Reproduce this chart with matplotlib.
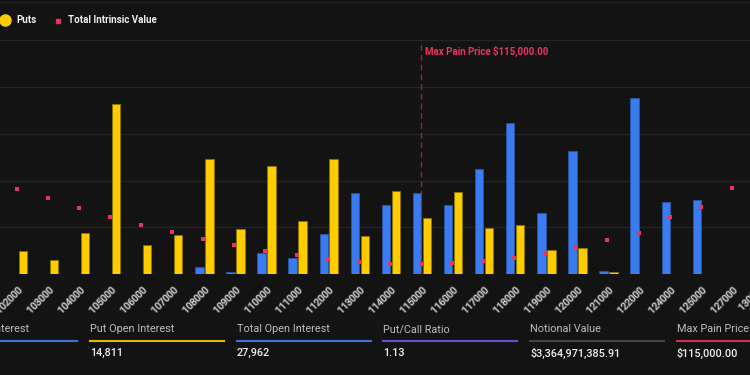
import matplotlib
matplotlib.use("Agg")
import matplotlib.pyplot as plt
from matplotlib.lines import Line2D
import matplotlib.patheffects as pe

# ---- data ----
strikes = ["102000", "103000", "104000", "105000", "106000", "107000", "108000",
           "109000", "110000", "111000", "112000", "113000", "114000", "115000",
           "116000", "117000", "118000", "119000", "120000", "121000", "122000",
           "124000", "125000", "127000"]
calls = [0, 0, 0, 0, 0, 0, 80, 27, 224, 171, 427, 865, 737, 865, 737, 1122,
         1613, 658, 1314, 32, 1876, 769, 790, 0]
puts = [246, 150, 438, 1816, 310, 417, 1229, 486, 1160, 566, 1229, 412, 887,
        598, 876, 498, 523, 256, 284, 27, 0, 0, 0, 0]
intrinsic = [91.3, 81.1, 71.1, 61.5, 52.9, 45.5, 37.7, 31.3, 25.2, 20.3, 16.0,
             13.1, 11.3, 11.0, 12.1, 13.9, 17.4, 22.7, 29.4, 36.3, 43.7, 61.5,
             71.8, 92.4]
next_strike = "130000"
max_pain_strike = "115000"
legend_labels = ["Puts", "Total Intrinsic Value"]
stat_titles = ["Call Open Interest", "Put Open Interest", "Total Open Interest",
               "Put/Call Ratio", "Notional Value", "Max Pain Price"]
stat_values = ["13,151", "14,811", "27,962", "1.13", "$3,364,971,385.91", "$115,000.00"]
stat_colors = ["#3b73d9", "#e6b800", "#3b73d9", "#6a4fd6", "#444444", "#d0304f"]

BG = "#131313"
BLUE = "#3b7bf0"
YELLOW = "#ffcc00"
RED = "#e8355f"

plt.rcParams["font.family"] = ["Roboto", "DejaVu Sans"]

W, H = 750, 375
fig = plt.figure(figsize=(7.5, 3.75), dpi=100, facecolor=BG)

def fx(px):
    return px / W

def fy(py):
    return 1 - py / H

ax = fig.add_axes([0, fy(274.3), 1, fy(40.0) - fy(274.3)])
ax.set_facecolor(BG)
x = list(range(len(strikes)))
bw = 0.27
ax.bar([i - 0.125 for i in x], calls, width=bw, color=BLUE,
       edgecolor="#2a55a8", linewidth=0.6, zorder=3)
ax.bar([i + 0.196 for i in x], puts, width=bw, color=YELLOW,
       edgecolor="#8a7300", linewidth=0.6, zorder=3)
ax.set_xlim(-0.537, 23.586)
ax.set_ylim(0, 2500)
ax.set_yticks([0, 500, 1000, 1500, 2000, 2500])
ax.yaxis.grid(True, color="#242424", linewidth=0.9, zorder=0)
ax.tick_params(axis="y", length=0, labelleft=False)
for s in ax.spines.values():
    s.set_visible(False)
ax.set_xticks(x)
ax.set_xticklabels(strikes, rotation=45, ha="right", rotation_mode="anchor",
                   fontsize=7, color="#d8d8d8")
ax.tick_params(axis="x", length=0, pad=8)
for lbl in ax.get_xticklabels():
    lbl.set_path_effects([pe.withStroke(linewidth=1.2, foreground="#555555")])
t = ax.text(len(strikes), 0, next_strike,
            rotation=45, ha="right", va="center", rotation_mode="anchor",
            fontsize=7, color="#d8d8d8", clip_on=False,
            transform=ax.get_xaxis_transform() +
            matplotlib.transforms.ScaledTranslation(0, -10 / 72 * 0.85, fig.dpi_scale_trans))
t.set_path_effects([pe.withStroke(linewidth=1.2, foreground="#555555")])

mp = strikes.index(max_pain_strike)
ax.axvline(mp, color="#8c2a45", linestyle=(0, (4, 3)), linewidth=1.0, zorder=4)
ax.annotate("Max Pain Price $115,000.00", xy=(mp, 2500), xytext=(3, -4),
            textcoords="offset points", ha="left", va="top", fontsize=7,
            fontweight="bold", color=RED)

ax2 = ax.twinx()
ax2.set_ylim(0, 250)
ax2.scatter(x, intrinsic, marker="s", s=9, color=RED, zorder=5, linewidths=0)
ax2.axis("off")

# header line / top
fig.add_artist(Line2D([0, 1], [fy(1.7), fy(1.7)], color="#202020", lw=0.8))

# legend
fig.add_artist(Line2D([fx(5)], [fy(20)], marker="o", markersize=8, color=YELLOW,
                      linestyle="none"))
fig.text(fx(16), fy(20), legend_labels[0], fontsize=7, fontweight="bold",
         color="#eeeeee", va="center", ha="left")
fig.add_artist(Line2D([fx(58)], [fy(21)], marker="s", markersize=3, color=RED,
                      linestyle="none"))
fig.text(fx(68), fy(20), legend_labels[1], fontsize=7, fontweight="bold",
         color="#eeeeee", va="center", ha="left")

# stats row
x0 = 90 - 146.7
for k, (tt, vv, cc) in enumerate(zip(stat_titles, stat_values, stat_colors)):
    left = x0 + 146.7 * k
    fig.text(fx(left), fy(329.3), tt, fontsize=7.8, color="#bdbdbd",
             va="center", ha="left")
    fig.add_artist(Line2D([fx(left), fx(left + 134)], [fy(341), fy(341)],
                          color=cc, lw=1.5))
    fig.text(fx(left), fy(353), vv, fontsize=7.8, color="#f0f0f0",
             va="center", ha="left", fontweight="medium")

fig.savefig("out.png", dpi=100, facecolor=BG)
